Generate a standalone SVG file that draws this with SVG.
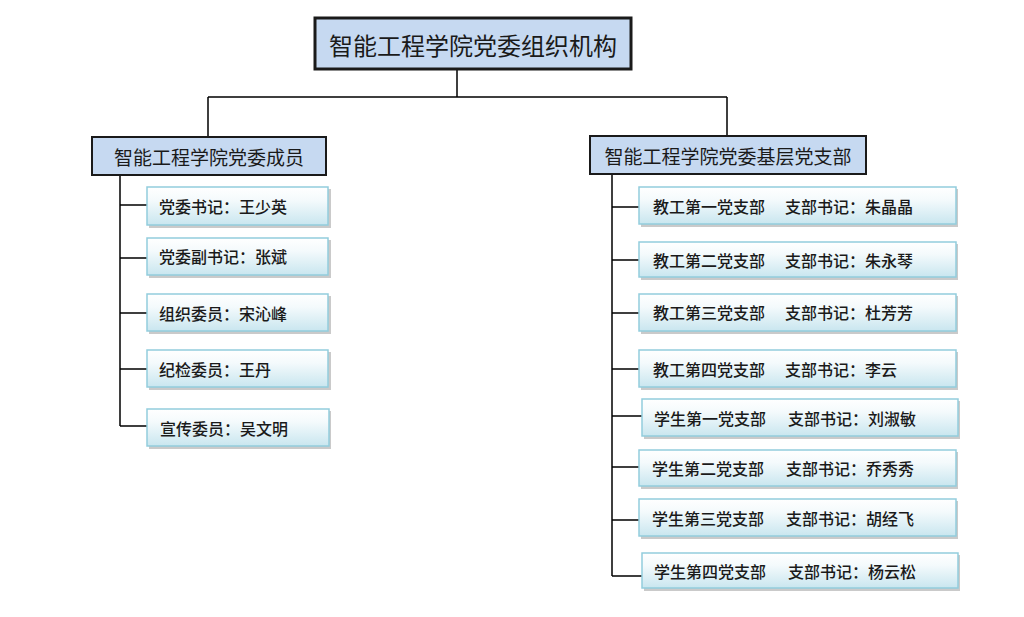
<svg xmlns="http://www.w3.org/2000/svg" width="1024" height="617" viewBox="0 0 1024 617">
<defs>
<linearGradient id="leafGrad" x1="0" y1="0" x2="0" y2="1">
<stop offset="0" stop-color="#ffffff"/>
<stop offset="0.35" stop-color="#f4fafc"/>
<stop offset="1" stop-color="#c9e6ef"/>
</linearGradient>
<style>
.txt{font-family:"Noto Sans CJK SC","Noto Sans",sans-serif;fill:#1a1a1a;dominant-baseline:central}
.title{font-size:24px}
.mid{font-size:19px}
.leafT{font-size:16px;font-weight:500}
.topBox{fill:#c6d9f1;stroke:#1a1a1a;stroke-width:3}
.midBox{fill:#c6d9f1;stroke:#1a1a1a;stroke-width:2}
.leaf{fill:url(#leafGrad);stroke:#92cddd;stroke-width:1.5}
.shadow{fill:#b3b3b3;opacity:0.7}
.conn{stroke:#000;stroke-width:1.5;fill:none}
</style>
</defs>
<rect width="1024" height="617" fill="#ffffff"/>

<g id="connectors">
<path class="conn" d="M457,70 V97 M208,97 H727 M208,97 V137 M727,97 V136"/>
<path class="conn" d="M120,175 V426 M120,205 H147 M120,258 H147 M120,313 H147 M120,369 H147 M120,426 H147"/>
<path class="conn" d="M612,174 V576 M612,207 H639 M612,260 H639 M612,313 H639 M612,369 H639 M612,416 H642 M612,467 H639 M612,520 H639 M612,576 H642"/>
</g>

<g id="root">
<rect class="topBox" x="315" y="18" width="316" height="51"/>
<text class="txt title" x="473" y="44" text-anchor="middle">智能工程学院党委组织机构</text>
</g>

<g id="members">
<rect class="midBox" x="92" y="137" width="234" height="38"/>
<text class="txt mid" x="209" y="156" text-anchor="middle">智能工程学院党委成员</text>
</g>

<g id="branches">
<rect class="midBox" x="590" y="136" width="276" height="38"/>
<text class="txt mid" x="728" y="155" text-anchor="middle">智能工程学院党委基层党支部</text>
</g>

<g id="m1">
<rect class="shadow" x="149" y="189" width="182" height="39"/>
<rect class="leaf" x="147" y="187" width="181" height="38"/>
<text class="txt leafT" x="159" y="206">党委书记：王少英</text>
</g>
<g id="m2">
<rect class="shadow" x="149" y="240" width="182" height="38"/>
<rect class="leaf" x="147" y="238" width="181" height="37"/>
<text class="txt leafT" x="159" y="256">党委副书记：张斌</text>
</g>
<g id="m3">
<rect class="shadow" x="149" y="296" width="182" height="38"/>
<rect class="leaf" x="147" y="294" width="181" height="37"/>
<text class="txt leafT" x="159" y="313">组织委员：宋沁峰</text>
</g>
<g id="m4">
<rect class="shadow" x="149" y="352" width="182" height="38"/>
<rect class="leaf" x="147" y="350" width="181" height="37"/>
<text class="txt leafT" x="159" y="369">纪检委员：王丹</text>
</g>
<g id="m5">
<rect class="shadow" x="149" y="411" width="182" height="38"/>
<rect class="leaf" x="147" y="409" width="182" height="37"/>
<text class="txt leafT" x="160" y="428">宣传委员：吴文明</text>
</g>

<g id="b1">
<rect class="shadow" x="641" y="189" width="317" height="38"/>
<rect class="leaf" x="639" y="187" width="317" height="37"/>
<text class="txt leafT" x="653" y="206">教工第一党支部<tspan x="785">支部书记：朱晶晶</tspan></text>
</g>
<g id="b2">
<rect class="shadow" x="641" y="244" width="317" height="36"/>
<rect class="leaf" x="639" y="242" width="317" height="35"/>
<text class="txt leafT" x="653" y="260">教工第二党支部<tspan x="785">支部书记：朱永琴</tspan></text>
</g>
<g id="b3">
<rect class="shadow" x="641" y="296" width="317" height="38"/>
<rect class="leaf" x="639" y="294" width="317" height="37"/>
<text class="txt leafT" x="653" y="312">教工第三党支部<tspan x="785">支部书记：杜芳芳</tspan></text>
</g>
<g id="b4">
<rect class="shadow" x="641" y="352" width="317" height="38"/>
<rect class="leaf" x="639" y="350" width="317" height="37"/>
<text class="txt leafT" x="653" y="369">教工第四党支部<tspan x="785">支部书记：李云</tspan></text>
</g>
<g id="b5">
<rect class="shadow" x="644" y="401" width="316" height="38"/>
<rect class="leaf" x="642" y="399" width="316" height="37"/>
<text class="txt leafT" x="654" y="418">学生第一党支部<tspan x="788">支部书记：刘淑敏</tspan></text>
</g>
<g id="b6">
<rect class="shadow" x="641" y="452" width="317" height="37"/>
<rect class="leaf" x="639" y="450" width="317" height="36"/>
<text class="txt leafT" x="652" y="468">学生第二党支部<tspan x="786">支部书记：乔秀秀</tspan></text>
</g>
<g id="b7">
<rect class="shadow" x="641" y="501" width="317" height="38"/>
<rect class="leaf" x="639" y="499" width="317" height="37"/>
<text class="txt leafT" x="652" y="518">学生第三党支部<tspan x="786">支部书记：胡经飞</tspan></text>
</g>
<g id="b8">
<rect class="shadow" x="644" y="555" width="316" height="36"/>
<rect class="leaf" x="642" y="553" width="316" height="35"/>
<text class="txt leafT" x="654" y="571">学生第四党支部<tspan x="788">支部书记：杨云松</tspan></text>
</g>
</svg>
